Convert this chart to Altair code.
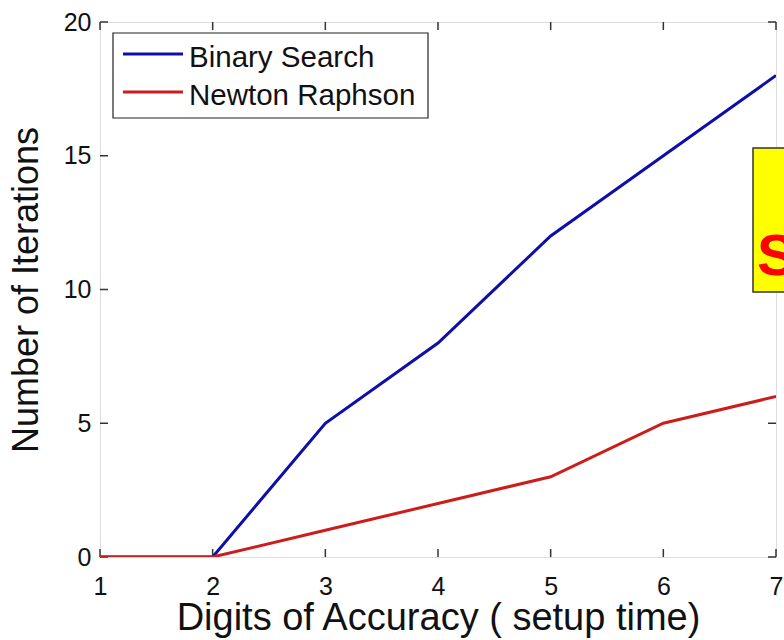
import altair as alt
import pandas as pd

digits = [1, 2, 3, 4, 5, 6, 7]
binary_search = [0, 0, 5, 8, 12, 15, 18]
newton_raphson = [0, 0, 1, 2, 3, 5, 6]
series_names = ["Binary Search", "Newton Raphson"]
series_colors = ["#0e0ea8", "#cc1c1c"]
x_ticks = [1, 2, 3, 4, 5, 6, 7]
y_ticks = [0, 5, 10, 15, 20]
x_title = "Digits of Accuracy ( setup time)"
y_title = "Number of Iterations"
note_text = "S"

rows = []
for name, vals in zip(series_names, [binary_search, newton_raphson]):
    for d, v in zip(digits, vals):
        rows.append({"digits": d, "iterations": v, "series": name})
df = pd.DataFrame(rows)
xt = pd.DataFrame({"t": x_ticks})
yt = pd.DataFrame({"t": y_ticks})

FONT = "Liberation Sans, Arial, Helvetica, sans-serif"
W, H = 676, 535

xscale = alt.Scale(domain=[1, 7], nice=False, zero=False)
yscale = alt.Scale(domain=[0, 20], nice=False)

lines = alt.Chart(df).mark_line(strokeWidth=3, clip=True).encode(
    x=alt.X("digits:Q", scale=xscale, title=x_title,
            axis=alt.Axis(values=x_ticks, format="d", grid=False, domain=False, ticks=False,
                          labelFontSize=25, labelPadding=17, labelColor="#111",
                          titleFontSize=38, titleFontWeight="normal", titlePadding=0,
                          titleColor="#111", labelFont=FONT, titleFont=FONT,
                          labelFlush=False)),
    y=alt.Y("iterations:Q", scale=yscale, title=y_title,
            axis=alt.Axis(values=y_ticks, format="d", grid=False, domain=False, ticks=False,
                          labelFontSize=25, labelPadding=9, labelColor="#111",
                          titleFontSize=36, titleFontWeight="normal", titlePadding=18,
                          titleColor="#111", labelFont=FONT, titleFont=FONT,
                          labelFlush=False)),
    color=alt.Color("series:N", scale=alt.Scale(domain=series_names, range=series_colors),
                    legend=None),
    order=alt.Order("digits:Q"),
)

tick_color = "#333"
bottom_ticks = alt.Chart(xt).mark_rule(color=tick_color, strokeWidth=1.5).encode(
    x=alt.X("t:Q", scale=xscale), y=alt.value(H), y2=alt.value(H - 8))
top_ticks = alt.Chart(xt).mark_rule(color=tick_color, strokeWidth=1.5).encode(
    x=alt.X("t:Q", scale=xscale), y=alt.value(0), y2=alt.value(8))
left_ticks = alt.Chart(yt).mark_rule(color=tick_color, strokeWidth=1.5).encode(
    y=alt.Y("t:Q", scale=yscale), x=alt.value(0), x2=alt.value(8))
right_ticks = alt.Chart(yt).mark_rule(color=tick_color, strokeWidth=1.5).encode(
    y=alt.Y("t:Q", scale=yscale), x=alt.value(W), x2=alt.value(W - 8))

# legend (drawn by hand, MATLAB style)
one = pd.DataFrame({"a": [0]})
legend_box = alt.Chart(one).mark_rect(fill="white", stroke="#222", strokeWidth=1.2).encode(
    x=alt.value(13), x2=alt.value(328), y=alt.value(11), y2=alt.value(96))
legend_layers = [legend_box]
for i, (name, col) in enumerate(zip(series_names, series_colors)):
    ly = 32 + 38 * i
    legend_layers.append(
        alt.Chart(one).mark_rule(color=col, strokeWidth=3).encode(
            x=alt.value(23), x2=alt.value(83), y=alt.value(ly)))
    legend_layers.append(
        alt.Chart(pd.DataFrame({"label": [name]})).mark_text(
            align="left", baseline="alphabetic", fontSize=29.5, font=FONT,
            color="#111").encode(x=alt.value(89), y=alt.value(ly + 13), text="label:N"))

note_box = alt.Chart(one).mark_rect(
    fill="#ffff00", stroke="#333", strokeWidth=1.5).encode(
    x=alt.value(653), x2=alt.value(720), y=alt.value(126), y2=alt.value(270))
note = alt.Chart(pd.DataFrame({"label": [note_text]})).mark_text(
    align="left", baseline="alphabetic", fontSize=58, fontWeight="bold",
    color="#ff0000", font=FONT).encode(
    x=alt.value(657), y=alt.value(253), text="label:N")

chart = alt.layer(bottom_ticks, top_ticks, left_ticks, right_ticks, lines,
                  *legend_layers, note_box, note).properties(
    width=W, height=H,
    padding={"left": 100, "top": 22, "right": 8, "bottom": 83},
    autosize=alt.AutoSizeParams(type="none"),
).configure_view(stroke="#333", strokeWidth=1.5).configure(background="white")

chart.save("out.html", embed_options={"renderer": "svg", "actions": False})
